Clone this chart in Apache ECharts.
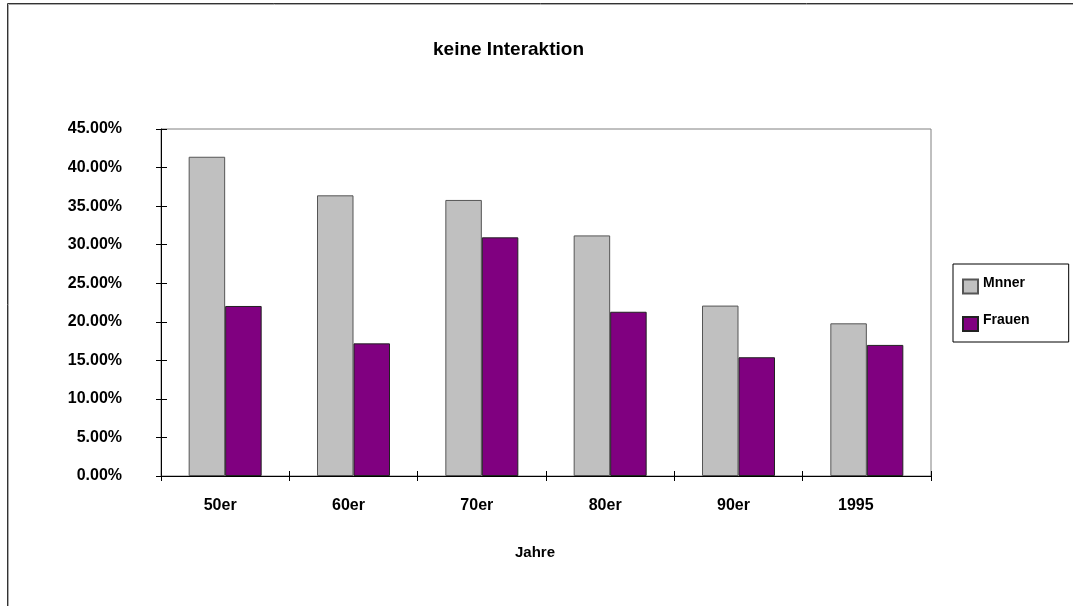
<!DOCTYPE html>
<html>
<head>
<meta charset="utf-8">
<script src="https://cdn.jsdelivr.net/npm/echarts@6/dist/echarts.min.js"></script>
<style>
html,body{margin:0;padding:0;background:#fff;}
#chart{width:1073px;height:606px;}
</style>
</head>
<body>
<div id="chart"></div>
<script>
const titleText = 'keine Interaktion';
const xAxisTitle = 'Jahre';
const categories = ['50er', '60er', '70er', '80er', '90er', '1995'];
const seriesNames = ['Mnner', 'Frauen'];
const maenner = [41.4, 36.4, 35.8, 31.2, 22.1, 19.8];
const frauen = [22.05, 17.2, 30.95, 21.3, 15.4, 17.0];
const yTicks = [0, 5, 10, 15, 20, 25, 30, 35, 40, 45];

const FONT = '"Liberation Sans", Arial, sans-serif';
const chart = echarts.init(document.getElementById('chart'), null, {renderer: 'canvas'});

const yMin = yTicks[0], yMax = yTicks[yTicks.length - 1], yInt = yTicks[1] - yTicks[0];
const grid = {left: 161, right: 142, top: 129, bottom: 130};

chart.setOption({
  backgroundColor: '#ffffff',
  animation: false,
  title: [
    {text: titleText, left: 428, top: 35,
     textStyle: {fontFamily: FONT, fontWeight: 'bold', fontSize: 19, color: '#000'}},
    {text: xAxisTitle, left: 510, top: 540,
     textStyle: {fontFamily: FONT, fontWeight: 'bold', fontSize: 15, color: '#000'}}
  ],
  graphic: [
    {type: 'polyline', shape: {points: [[7.5, 606], [7.5, 3.5], [1073, 3.5]]},
     style: {fill: null, stroke: '#333', lineWidth: 1}, silent: true},
    {type: 'polyline', shape: {points: [[8.5, 606], [8.5, 4.5], [1073, 4.5]]},
     style: {fill: null, stroke: '#aaa', lineWidth: 1}, silent: true}
  ],
  legend: {
    orient: 'vertical', left: 953, top: 264,
    padding: [12, 39, 10, 9],
    itemWidth: 15, itemHeight: 14, itemGap: 19,
    borderColor: '#000', borderWidth: 1,
    icon: 'rect',
    formatter: '{t|{name}}',
    textStyle: {fontFamily: FONT, fontWeight: 'bold', fontSize: 14, color: '#000',
      rich: {t: {fontFamily: FONT, fontWeight: 'bold', fontSize: 14, color: '#000', padding: [0, 0, 7, 0]}}},
    data: seriesNames
  },
  grid: Object.assign({show: true, borderColor: '#808080', borderWidth: 1, backgroundColor: '#fff'}, grid),
  xAxis: [
    {type: 'category', data: categories, position: 'bottom',
     axisLine: {show: true, lineStyle: {color: '#000', width: 1}},
     axisTick: {show: true, inside: false, length: 5, lineStyle: {color: '#000'}},
     axisLabel: {fontFamily: FONT, fontWeight: 'bold', fontSize: 16, color: '#000', margin: 22,
       formatter: function (v) { return v === '1995' ? '{w|' + v + '}' : '{n|' + v + '}'; },
       rich: {
         n: {fontFamily: FONT, fontWeight: 'bold', fontSize: 16, color: '#000', padding: [0, 10, 0, 0]},
         w: {fontFamily: FONT, fontWeight: 'bold', fontSize: 16, color: '#000', padding: [0, 22, 0, 0]}
       }},
     splitLine: {show: false}},
    {type: 'category', data: categories, position: 'bottom',
     axisLine: {show: false},
     axisTick: {show: true, inside: true, length: 5, lineStyle: {color: '#000'}},
     axisLabel: {show: false}, splitLine: {show: false}}
  ],
  yAxis: [
    {type: 'value', min: yMin, max: yMax, interval: yInt, position: 'left',
     axisLine: {show: true, lineStyle: {color: '#000', width: 1}},
     axisTick: {show: true, inside: false, length: 5, lineStyle: {color: '#000'}},
     axisLabel: {fontFamily: FONT, fontWeight: 'bold', fontSize: 16, color: '#000', margin: 39,
       align: 'right', formatter: function (v) { return v.toFixed(2) + '%'; }},
     splitLine: {show: false}},
    {type: 'value', min: yMin, max: yMax, interval: yInt, position: 'left',
     axisLine: {show: false},
     axisTick: {show: true, inside: true, length: 6, lineStyle: {color: '#000'}},
     axisLabel: {show: false}, splitLine: {show: false}}
  ],
  series: [
    {name: seriesNames[0], type: 'bar', data: maenner, xAxisIndex: 0, yAxisIndex: 0,
     barWidth: 36.5, barGap: '0%',
     itemStyle: {color: '#C0C0C0', borderColor: '#555', borderWidth: 1}},
    {name: seriesNames[1], type: 'bar', data: frauen, xAxisIndex: 0, yAxisIndex: 0,
     barWidth: 36.5, barGap: '0%',
     itemStyle: {color: '#800080', borderColor: '#222', borderWidth: 1}}
  ]
});
</script>
</body>
</html>
